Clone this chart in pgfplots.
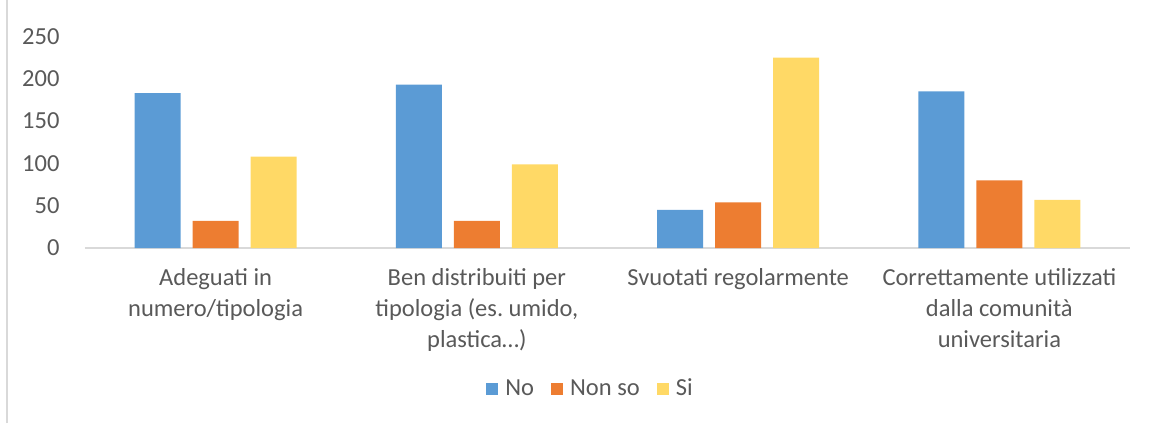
\documentclass[border=0pt]{standalone}
\usepackage{fontspec}
\setmainfont{Carlito}
\usepackage{pgfplots}
\pgfplotsset{compat=1.18}
\definecolor{cNo}{HTML}{5B9BD5}
\definecolor{cNs}{HTML}{ED7D31}
\definecolor{cSi}{HTML}{FFD966}
\definecolor{txt}{HTML}{595959}
\definecolor{axl}{HTML}{D9D9D9}
\frenchspacing
\begin{document}
\fontsize{12.25pt}{15.5pt}\selectfont
\begin{tikzpicture}
\path[use as bounding box] (-42.5pt,-87.5pt) rectangle (532.5pt,124pt);
\draw[axl, line width=0.75pt] (-39pt,-87.5pt) -- (-39pt,124pt);
\begin{axis}[
  scale only axis, width=522.5pt, height=105.75pt,
  xmin=-0.5, xmax=3.5, ymin=0, ymax=250,
  ytick={0,50,100,150,200,250},
  xtick={0,1,2,3},
  xticklabels={{Adeguati in\\numero/tipologia},{Ben distribuiti per\\tipologia (es.\ umido,\\plastica\ldots)},{Svuotati regolarmente},{Correttamente utilizzati\\dalla comunità\\universitaria}},
  axis x line=bottom, axis y line=left,
  y axis line style={draw=none},
  x axis line style={axl, line width=1pt, -},
  major tick length=0pt,
  tick label style={text=txt, font=\fontsize{12.25pt}{15.5pt}\selectfont},
  yticklabel style={anchor=east, xshift=-8.5pt},
  xticklabel style={anchor=north, align=center, yshift=-6pt},
  /pgf/number format/assume math mode=true,
  legend style={at={(0.378,-0.667)}, anchor=west, draw=none, legend columns=3,
    font=\fontsize{12.25pt}{15.5pt}\selectfont, text=txt,
    /tikz/every odd column/.append style={column sep=1.5pt},
    /tikz/every even column/.append style={column sep=6.5pt}},
  legend image code/.code={\fill[#1, draw=none] (0pt,-3pt) rectangle (6pt,3pt);},
]
\addplot[ybar, fill=cNo, draw=none, bar width=0.176, bar shift=-0.222] coordinates {(0,183) (1,193) (2,45) (3,185)};
\addlegendentry{No}
\addplot[ybar, fill=cNs, draw=none, bar width=0.176, bar shift=0] coordinates {(0,32) (1,32) (2,54) (3,80)};
\addlegendentry{Non so}
\addplot[ybar, fill=cSi, draw=none, bar width=0.176, bar shift=0.222] coordinates {(0,108) (1,99) (2,225) (3,57)};
\addlegendentry{Si}
\end{axis}
\end{tikzpicture}
\end{document}
